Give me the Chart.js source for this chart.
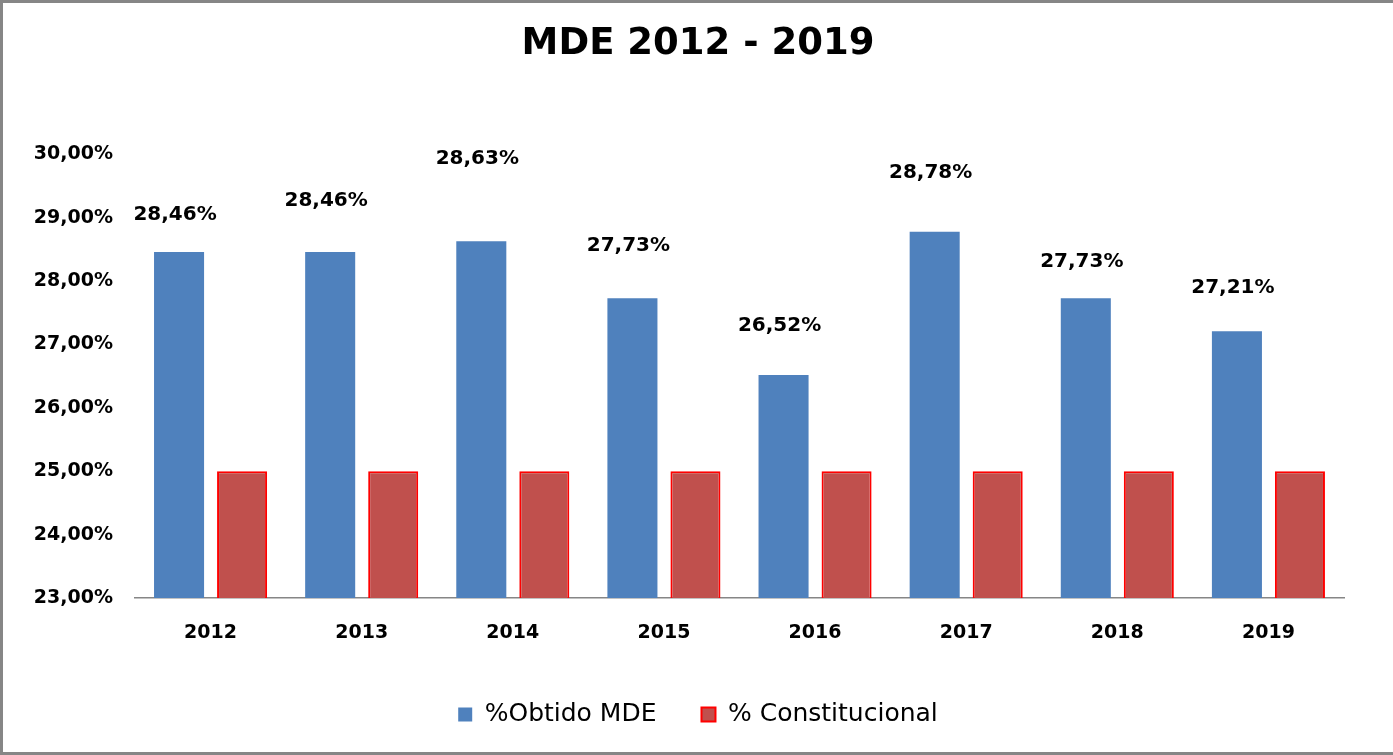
<!DOCTYPE html>
<html>
<head>
<meta charset="utf-8">
<script src="https://cdn.jsdelivr.net/npm/chart.js@4"></script>
<style>
  body { margin: 0; background: #fff; }
  #frame {
    position: absolute; left: 0; top: 0;
    width: 1390px; height: 749px;
    border: 3px solid #868686; border-right: none;
    background: #fff;
  }
</style>
</head>
<body>
<div id="frame"><canvas id="mde" width="1390" height="749"></canvas></div>
<script>
const years = ['2012', '2013', '2014', '2015', '2016', '2017', '2018', '2019'];
const obtidoMDE = [28.46, 28.46, 28.63, 27.73, 26.52, 28.78, 27.73, 27.21];
const constitucional = [25, 25, 25, 25, 25, 25, 25, 25];
const yMin = 23, yMax = 30, yStep = 1;

const fmt = v => v.toFixed(2).replace('.', ',') + '%';

// labels above the blue bars (hand placed in the original, so each has its own lift)
const barLabels = {
    id: 'barLabels',
    afterDatasetsDraw(chart, args, opts) {
        const ctx = chart.ctx;
        const meta = chart.getDatasetMeta(0);
        ctx.save();
        ctx.font = 'bold 20px "DejaVu Sans"';
        ctx.fillStyle = '#000';
        ctx.textAlign = 'center';
        ctx.textBaseline = 'middle';
        meta.data.forEach((bar, i) => {
            ctx.fillText(fmt(obtidoMDE[i]), bar.x - 4, bar.y - opts.lift[i]);
        });
        ctx.restore();
    }
};

const tickFont = { family: 'DejaVu Sans', size: 19, weight: 'bold' };

new Chart(document.getElementById('mde'), {
    type: 'bar',
    data: {
        labels: years,
        datasets: [
            {
                label: '%Obtido MDE',
                data: obtidoMDE,
                backgroundColor: '#4F81BD',
                borderWidth: 0
            },
            {
                label: '% Constitucional',
                data: constitucional,
                backgroundColor: '#C0504D',
                borderColor: '#FF0000',
                borderWidth: 2
            }
        ]
    },
    options: {
        responsive: false,
        animation: false,
        categoryPercentage: 0.834,
        barPercentage: 0.794,
        layout: { padding: { left: 0, right: 0, top: 0, bottom: 15 } },
        scales: {
            x: {
                grid: { display: false, drawTicks: false },
                border: { display: true, color: '#868686', width: 1.5 },
                ticks: { color: '#000', font: tickFont, padding: 24 },
                afterFit: s => { s.height = 59; }
            },
            y: {
                min: yMin,
                max: yMax,
                grid: { display: false, drawTicks: false },
                border: { display: false },
                ticks: {
                    stepSize: yStep,
                    color: '#000',
                    font: tickFont,
                    padding: 22,
                    callback: v => fmt(v)
                },
                afterFit: s => { s.width = 132; }
            },
            // empty right axis, only keeps the plot off the right edge
            yRight: {
                position: 'right',
                min: yMin,
                max: yMax,
                grid: { display: false, drawTicks: false },
                border: { display: false },
                ticks: { display: false },
                afterFit: s => { s.width = 49; }
            }
        },
        plugins: {
            title: {
                display: true,
                text: 'MDE 2012 - 2019',
                color: '#000',
                font: { family: 'DejaVu Sans', size: 37, weight: 'bold' },
                padding: { top: 19, bottom: 88 }
            },
            legend: {
                position: 'bottom',
                labels: {
                    color: '#000',
                    font: { family: 'DejaVu Sans', size: 25 },
                    boxWidth: 14,
                    boxHeight: 14,
                    padding: 45
                }
            },
            tooltip: { enabled: false },
            barLabels: { lift: [37, 51, 82, 52, 49, 59, 36, 43] }
        }
    },
    plugins: [barLabels]
});
</script>
</body>
</html>
